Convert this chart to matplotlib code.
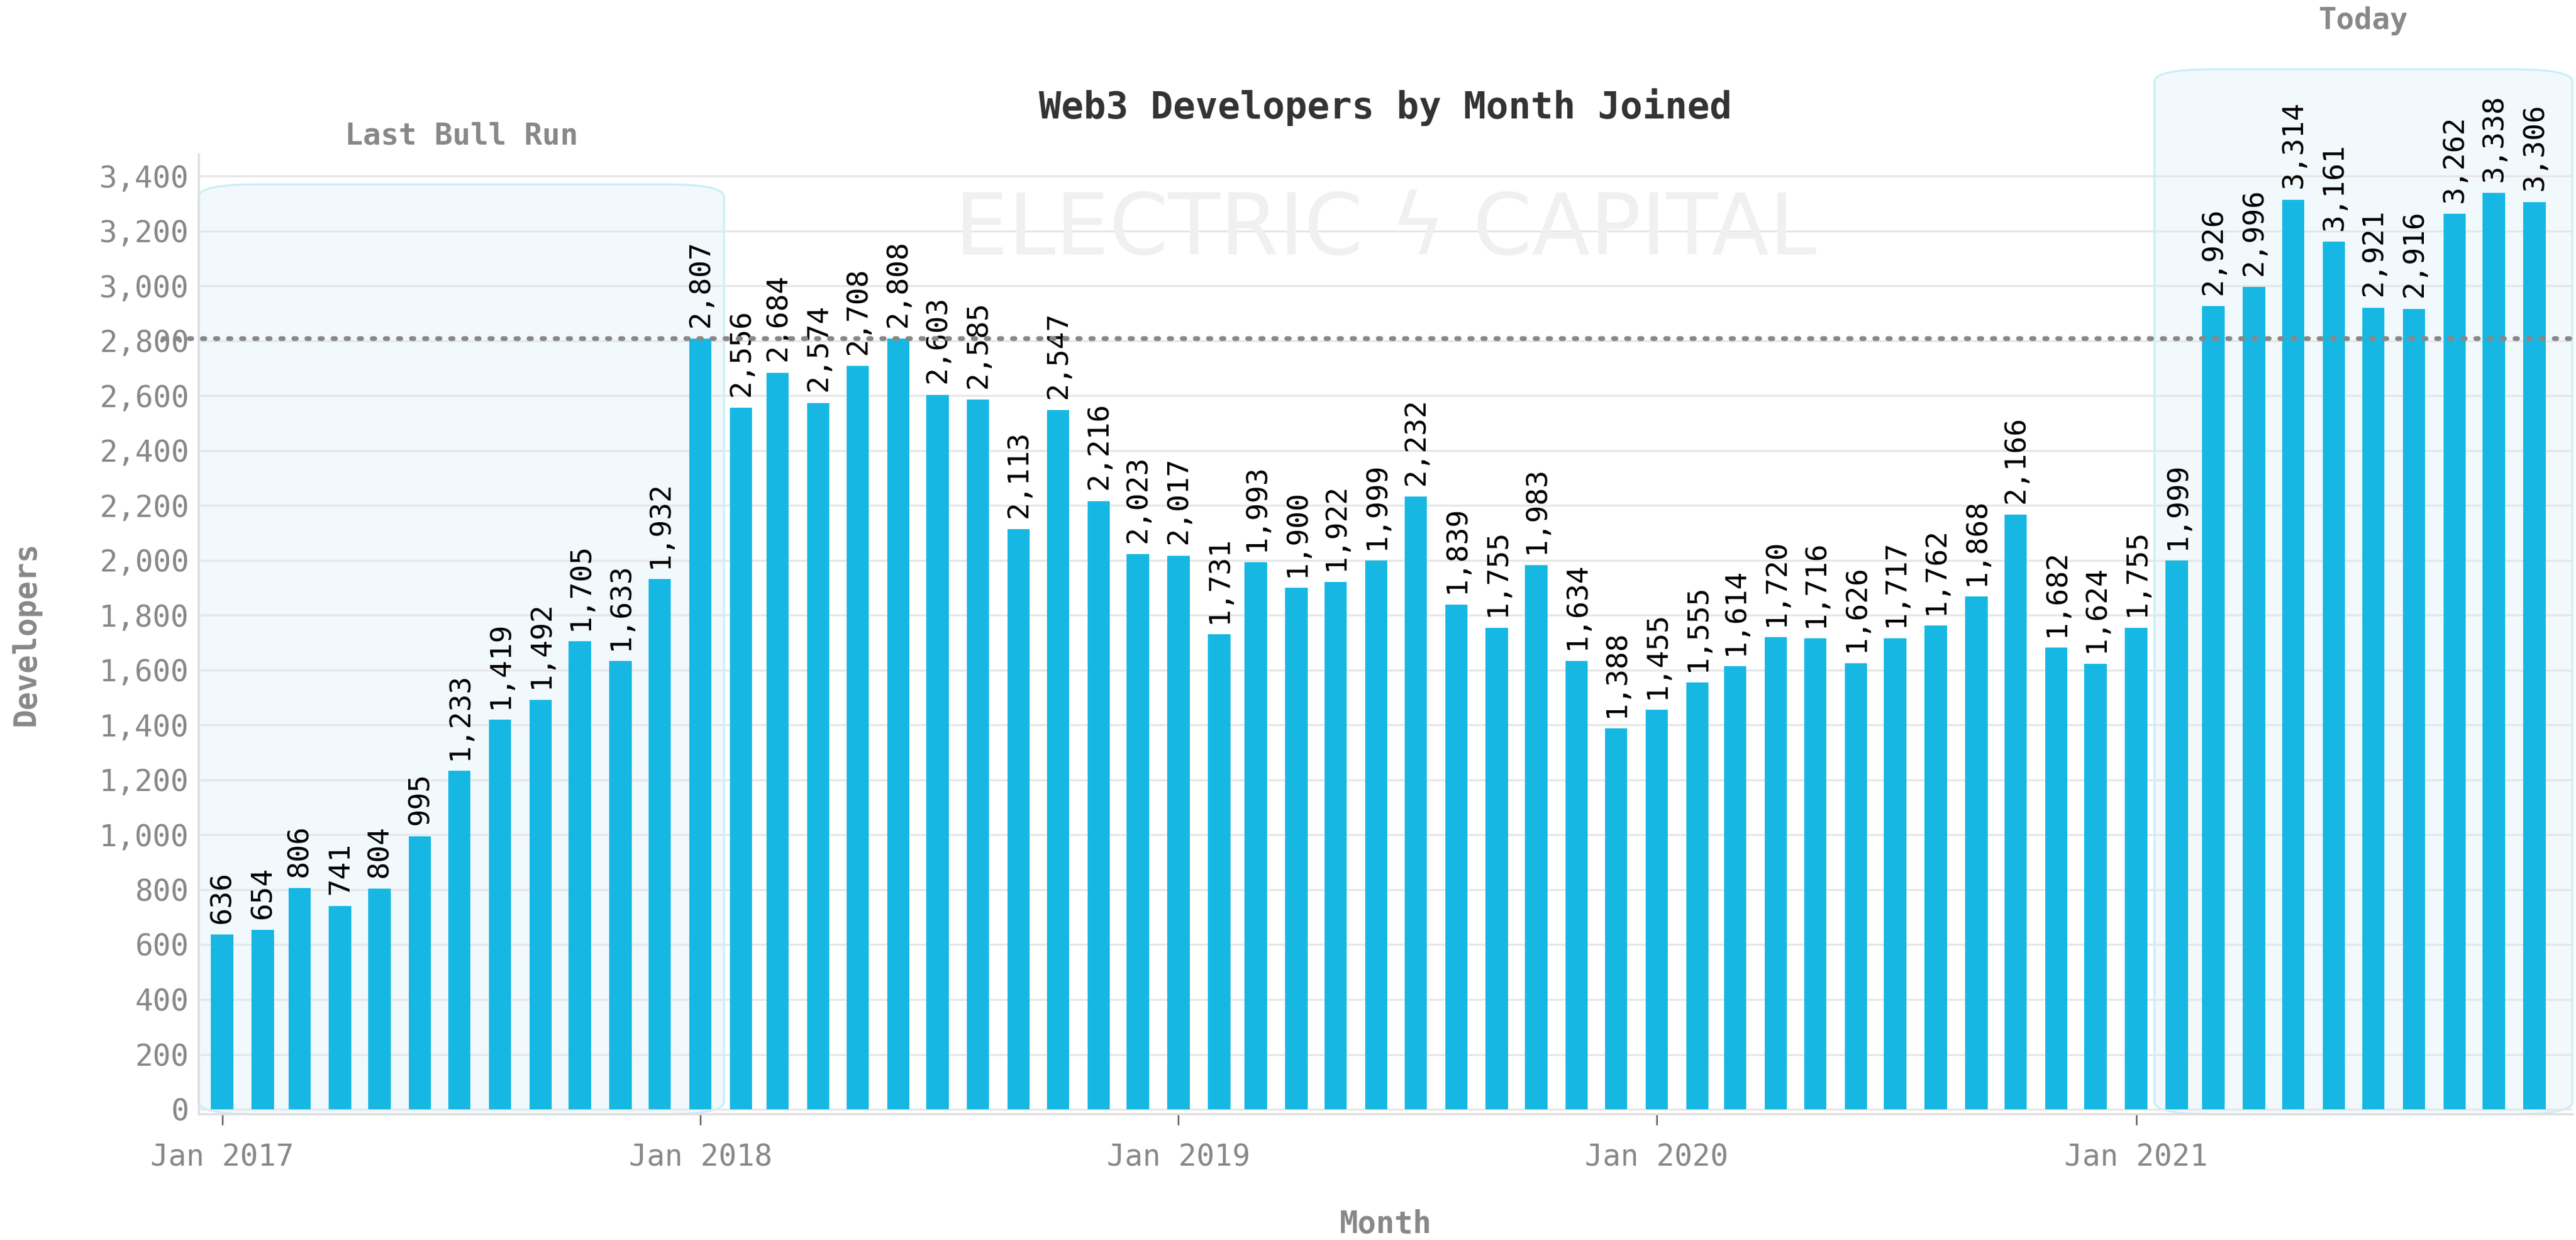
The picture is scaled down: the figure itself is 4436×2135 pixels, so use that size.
import matplotlib
matplotlib.use("Agg")
import matplotlib.pyplot as plt
import matplotlib.dates as mdates
from matplotlib.patches import FancyBboxPatch
from matplotlib.ticker import FuncFormatter, MultipleLocator
import pandas as pd

# monthly new web3 developers, Jan 2017 .. Nov 2021
developers = [
    636, 654, 806, 741, 804, 995, 1233, 1419, 1492, 1705, 1633, 1932,
    2807, 2556, 2684, 2574, 2708, 2808, 2603, 2585, 2113, 2547, 2216, 2023,
    2017, 1731, 1993, 1900, 1922, 1999, 2232, 1839, 1755, 1983, 1634, 1388,
    1455, 1555, 1614, 1720, 1716, 1626, 1717, 1762, 1868, 2166, 1682, 1624,
    1755, 1999, 2926, 2996, 3314, 3161, 2921, 2916, 3262, 3338, 3306,
]
months = pd.date_range("2017-01-01", periods=len(developers), freq="MS")
year_ticks = pd.to_datetime(["2017-01-01", "2018-01-01", "2019-01-01", "2020-01-01", "2021-01-01"])
tick_labels = ["Jan 2017", "Jan 2018", "Jan 2019", "Jan 2020", "Jan 2021"]
bull_run = ("2016-12-14", "2018-01-19")
today = ("2021-01-15", "2021-11-30")
bull_peak = 2808

BAR = "#16b8e3"
GREY = "#888888"
MONO = "DejaVu Sans Mono"

fig = plt.figure(figsize=(44.36, 21.35), dpi=100)
ax = fig.add_axes([0.0771, 0.1016, 0.9215, 0.7741])

x0 = mdates.date2num(pd.Timestamp(bull_run[0]))
x1 = mdates.date2num(pd.Timestamp(bull_run[1]))
ax.add_patch(FancyBboxPatch((x0, -18), x1 - x0, 3388, boxstyle="round,pad=0,rounding_size=45",
                            fc="#f1f9fd", ec="#c9eef9", lw=2.5, zorder=0.5, clip_on=False))
t0 = mdates.date2num(pd.Timestamp(today[0]))
t1 = mdates.date2num(pd.Timestamp(today[1]))
ax.add_patch(FancyBboxPatch((t0, -18), t1 - t0, 3807, boxstyle="round,pad=0,rounding_size=45",
                            fc="#f1f9fd", ec="#c9eef9", lw=2.5, zorder=0.5, clip_on=False))
ax.text((x0 + x1) / 2, 3545, "Last Bull Run", ha="center", va="center", fontsize=37,
        fontweight="bold", color=GREY, family=MONO)
ax.text((t0 + t1) / 2, 3965, "Today", ha="center", va="center", fontsize=37,
        fontweight="bold", color=GREY, family=MONO, clip_on=False)

# watermark
ax.text(0.5, 0.92, "ELECTRIC \u03df CAPITAL", transform=ax.transAxes, ha="center", va="center",
        fontsize=105, color="#f0f0f0", family="DejaVu Sans", zorder=0.6)

ax.bar(months, developers, width=17, color=BAR, zorder=2)
for m, v in zip(months, developers):
    ax.annotate(f"{v:,}", (m, v), xytext=(0, 14), textcoords="offset points", rotation=90,
                ha="center", va="bottom", fontsize=36, color="black", family=MONO, zorder=3)

ax.plot([-0.015, 1], [bull_peak, bull_peak], transform=ax.get_yaxis_transform(), ls=(0, (0.5, 2.2)),
        lw=6, color="#888888", dash_capstyle="round", clip_on=False, zorder=4)

ax.set_xlim(mdates.date2num(pd.Timestamp(bull_run[0])), mdates.date2num(pd.Timestamp(today[1])))
ax.set_ylim(-17, 3480)
ax.yaxis.set_major_locator(MultipleLocator(200))
ax.yaxis.set_major_formatter(FuncFormatter(lambda v, p: f"{int(v):,}"))
ax.set_xticks(year_ticks)
ax.set_xticklabels(tick_labels)
ax.grid(axis="y", color="#e6e6e6", lw=2.5, zorder=0)
ax.set_axisbelow(True)
for s in ["top", "right"]:
    ax.spines[s].set_visible(False)
for s in ["left", "bottom"]:
    ax.spines[s].set_color("#dddddd")
    ax.spines[s].set_linewidth(2.5)
ax.tick_params(axis="y", length=0, pad=12, labelsize=37, labelcolor=GREY)
ax.tick_params(axis="x", length=14, width=2, color="#666666", pad=22, labelsize=37, labelcolor=GREY)
for lab in ax.get_xticklabels() + ax.get_yticklabels():
    lab.set_family(MONO)

ax.set_title("Web3 Developers by Month Joined", fontsize=46, fontweight="bold", color="#333333",
             family=MONO, pad=44)
ax.set_xlabel("Month", fontsize=38, fontweight="bold", color=GREY, family=MONO, labelpad=46)
ax.set_ylabel("Developers", fontsize=38, fontweight="bold", color=GREY, family=MONO, labelpad=72)

fig.savefig("out.png", dpi=100)
